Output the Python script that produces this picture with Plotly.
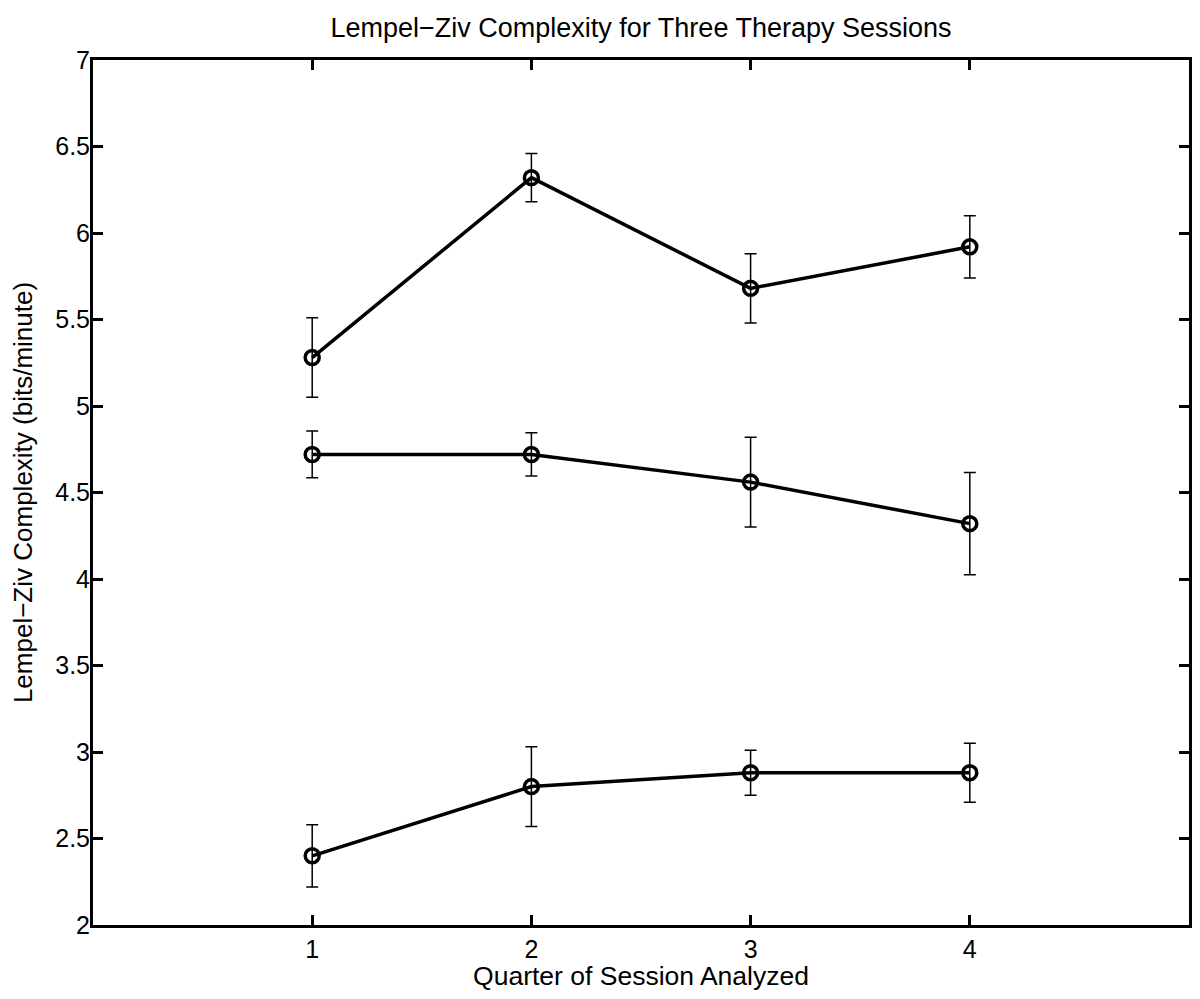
import plotly.graph_objects as go

quarters = [1, 2, 3, 4]
high_vals = [5.28, 6.32, 5.68, 5.92]
high_err = [0.23, 0.14, 0.20, 0.18]
mid_vals = [4.72, 4.72, 4.56, 4.32]
mid_err = [0.135, 0.125, 0.26, 0.295]
low_vals = [2.40, 2.80, 2.88, 2.88]
low_err = [0.18, 0.23, 0.13, 0.17]

y_ticks = [2, 2.5, 3, 3.5, 4, 4.5, 5, 5.5, 6, 6.5, 7]
y_tick_text = ["2", "2.5", "3", "3.5", "4", "4.5", "5", "5.5", "6", "6.5", "7"]

fig = go.Figure()
for vals, errs in [(high_vals, high_err), (mid_vals, mid_err), (low_vals, low_err)]:
    fig.add_trace(go.Scatter(
        x=quarters, y=vals,
        mode="lines+markers",
        line=dict(color="black", width=3.5),
        marker=dict(symbol="circle-open", size=14, color="black", line=dict(width=3.5, color="black")),
        error_y=dict(type="data", array=errs, visible=True, color="black", thickness=1.5, width=6),
        showlegend=False,
    ))

font_family = "Liberation Sans, Arial, Helvetica, sans-serif"
fig.update_layout(
    width=1184, height=983,
    margin=dict(l=85, r=3, t=52, b=66, autoexpand=False),
    paper_bgcolor="white", plot_bgcolor="white",
    font=dict(family=font_family, color="black", size=25),
    title=dict(text="Lempel\u2212Ziv Complexity for Three Therapy Sessions",
               x=0.5, xanchor="center", xref="paper",
               y=0.9797, yanchor="middle", yref="container",
               font=dict(size=27, family=font_family)),
)
fig.update_xaxes(
    range=[0, 5], tickvals=quarters, ticktext=[str(q) for q in quarters],
    showline=True, linecolor="black", linewidth=3, mirror="allticks",
    ticks="inside", ticklen=10, tickwidth=3, tickcolor="black",
    showgrid=False, zeroline=False, automargin=False,
    tickfont=dict(size=25),
    title=dict(text="Quarter of Session Analyzed", font=dict(size=26.5), standoff=3),
)
fig.update_yaxes(
    range=[2, 7], tickvals=y_ticks, ticktext=y_tick_text,
    showline=True, linecolor="black", linewidth=3, mirror="allticks",
    ticks="inside", ticklen=10, tickwidth=3, tickcolor="black",
    showgrid=False, zeroline=False, automargin=False,
    tickfont=dict(size=25), ticklabelstandoff=-5,
    title=dict(text="Lempel\u2212Ziv Complexity (bits/minute)", font=dict(size=26), standoff=18),
)

fig.write_html("out.html")
